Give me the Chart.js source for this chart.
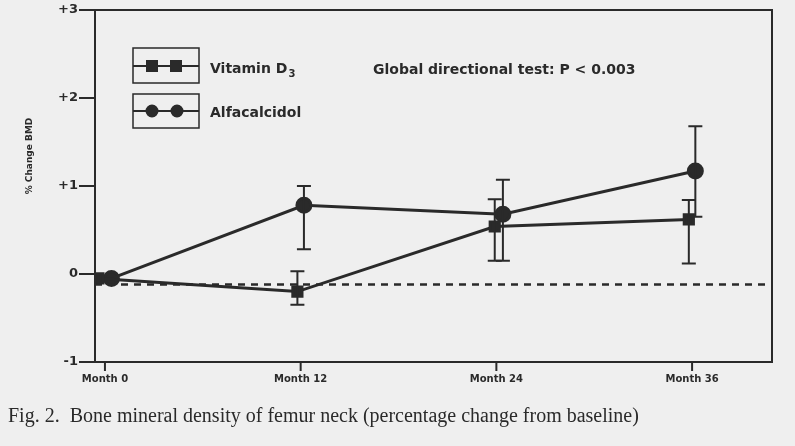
<!DOCTYPE html>
<html><head><script src="https://cdn.jsdelivr.net/npm/chart.js@4"></script>
<style>body{margin:0;background:#efefef}#w{width:795px;height:446px}</style></head>
<body><div id="w"><canvas id="c"></canvas></div>
<script>
const months=[0,12,24,36];
const tickLabels=['Month 0','Month 12','Month 24','Month 36'];
const vitD=[-0.05,-0.2,0.54,0.62];
const vitDLo=[-0.05,-0.35,0.15,0.12];
const vitDHi=[-0.05,0.03,0.85,0.84];
const alfa=[-0.05,0.78,0.68,1.17];
const alfaLo=[-0.05,0.28,0.15,0.65];
const alfaHi=[-0.05,1.0,1.07,1.68];
const dashVal=-0.12;
const offD=[-0.4,-0.2,-0.1,-0.2], offA=[0.4,0.2,0.4,0.2];
const ink='#2a2a2a';
const mk=(v,o)=>v.map((y,i)=>({x:months[i]+o[i],y}));
const extras={id:'extras',afterDatasetsDraw(ch){
 const c=ch.ctx,x=ch.scales.x,y=ch.scales.y,a=ch.chartArea;
 c.save();c.strokeStyle=ink;c.fillStyle=ink;
 c.lineWidth=2;
 [[vitD,vitDLo,vitDHi,offD],[alfa,alfaLo,alfaHi,offA]].forEach(([v,lo,hi,o])=>{
  v.forEach((_,i)=>{if(i===0)return;const px=x.getPixelForValue(months[i]+o[i]);
   const y1=y.getPixelForValue(lo[i]),y2=y.getPixelForValue(hi[i]);
   c.beginPath();c.moveTo(px,y1);c.lineTo(px,y2);c.moveTo(px-7,y1);c.lineTo(px+7,y1);c.moveTo(px-7,y2);c.lineTo(px+7,y2);c.stroke();});
 });
 c.setLineDash([7,6]);c.lineWidth=2.5;const dy=y.getPixelForValue(dashVal);
 c.beginPath();c.moveTo(a.left,dy);c.lineTo(a.right,dy);c.stroke();c.setLineDash([]);
 c.lineWidth=2;c.strokeRect(a.left,a.top,a.right-a.left,a.bottom-a.top);
 months.forEach((m,i)=>{const px=x.getPixelForValue(m);c.beginPath();c.moveTo(px,a.bottom);c.lineTo(px,a.bottom+9);c.stroke();
  c.font='bold 10px "DejaVu Sans"';c.textAlign='center';c.fillText(tickLabels[i],px,a.bottom+20);});
 [-1,0,1,2,3].forEach(v=>{const py=y.getPixelForValue(v);c.beginPath();c.moveTo(a.left-16,py);c.lineTo(a.left,py);c.stroke();
  c.font='bold 13px "DejaVu Sans"';c.textAlign='right';c.textBaseline='middle';c.fillText(v>0?'+'+v:String(v),a.left-17,py);});
 c.save();c.translate(30,(a.top+a.bottom)/2-30);c.rotate(-Math.PI/2);c.font='bold 9px "DejaVu Sans"';c.textAlign='center';c.fillText('% Change BMD',0,0);c.restore();
 c.lineWidth=1.5;c.strokeRect(133,48,66,35);c.strokeRect(133,94,66,34);
 c.lineWidth=2;c.beginPath();c.moveTo(133,66);c.lineTo(199,66);c.moveTo(133,111);c.lineTo(199,111);c.stroke();
 c.fillRect(146,60,12,12);c.fillRect(170,60,12,12);
 c.beginPath();c.arc(152,111,6.5,0,7);c.arc(177,111,6.5,0,7);c.fill();
 c.font='bold 14px "DejaVu Sans"';c.textAlign='left';c.textBaseline='middle';
 c.fillText('Vitamin D',210,69);const w=c.measureText('Vitamin D').width;c.font='bold 10px "DejaVu Sans"';c.fillText('3',210+w+1,74);
 c.font='bold 14px "DejaVu Sans"';c.fillText('Alfacalcidol',210,113);
 c.fillText('Global directional test: P < 0.003',373,70);
 c.font='20px "Liberation Serif"';c.textBaseline='alphabetic';c.fillText('Fig. 2.  Bone mineral density of femur neck (percentage change from baseline)',8,422);
 c.restore();}};
new Chart(document.getElementById('c'),{type:'scatter',
 data:{datasets:[
  {data:mk(vitD,offD),showLine:true,borderColor:ink,backgroundColor:ink,borderWidth:3,pointStyle:'rect',pointRadius:6.5},
  {data:mk(alfa,offA),showLine:true,borderColor:ink,backgroundColor:ink,borderWidth:3,pointStyle:'circle',pointRadius:7}]},
 options:{responsive:true,maintainAspectRatio:false,animation:false,
  layout:{padding:{left:95,right:23,top:0,bottom:84}},
  plugins:{legend:{display:false},tooltip:{enabled:false}},
  scales:{x:{type:'linear',min:-0.61,max:40.9,display:false},
   y:{min:-1,max:3,display:false}}},
 plugins:[extras]});
</script></body></html>
